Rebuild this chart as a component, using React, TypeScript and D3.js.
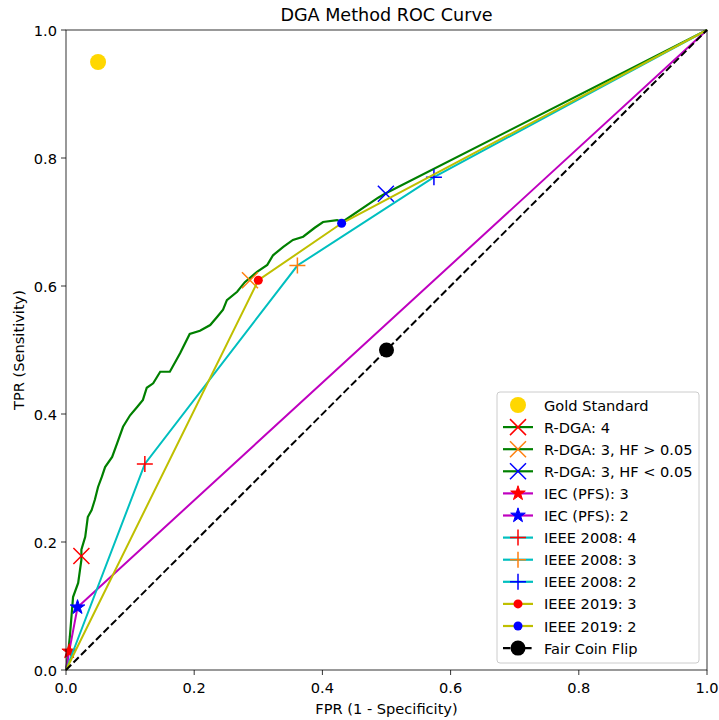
import React from 'react';
import * as d3 from 'd3';

// R-DGA ROC curve as [FPR, TPR]
const rdgaCurve: [number, number][] = [
  [0, 0], [0.001, 0.005], [0.006, 0.052], [0.011, 0.114], [0.019, 0.136],
  [0.024, 0.172], [0.024, 0.188], [0.03, 0.208], [0.034, 0.239], [0.04, 0.25],
  [0.045, 0.266], [0.05, 0.286], [0.056, 0.302], [0.061, 0.317], [0.072, 0.333],
  [0.08, 0.355], [0.089, 0.38], [0.1, 0.398], [0.111, 0.411], [0.12, 0.422],
  [0.126, 0.441], [0.136, 0.448], [0.147, 0.466], [0.162, 0.466], [0.178, 0.495],
  [0.193, 0.525], [0.209, 0.53], [0.225, 0.539], [0.236, 0.552], [0.245, 0.563],
  [0.251, 0.578], [0.267, 0.591], [0.279, 0.606], [0.298, 0.622], [0.314, 0.633],
  [0.323, 0.648], [0.339, 0.661], [0.354, 0.672], [0.37, 0.677], [0.388, 0.691],
  [0.401, 0.7], [0.423, 0.703], [0.431, 0.7], [0.487, 0.738], [0.499, 0.745], [1, 1]
];
const rdgaCutoffs: [number, number][] = [[0.024, 0.178], [0.287, 0.609], [0.499, 0.744]];
const iecPoints: [number, number][] = [[0, 0], [0.005, 0.029], [0.018, 0.098], [1, 1]];
const ieee2008Points: [number, number][] = [[0, 0], [0.123, 0.322], [0.361, 0.632], [0.574, 0.77], [1, 1]];
const ieee2019Points: [number, number][] = [[0, 0], [0.3, 0.609], [0.43, 0.698], [1, 1]];
const coinPoints: [number, number][] = [[0, 0], [1, 1]];
const goldStandard: [number, number] = [0.05, 0.95];
const coinMark: [number, number] = [0.5, 0.5];

const ticks = [0, 0.2, 0.4, 0.6, 0.8, 1.0];
const legendLabels = [
  'Gold Standard', 'R-DGA: 4', 'R-DGA: 3, HF > 0.05', 'R-DGA: 3, HF < 0.05',
  'IEC (PFS): 3', 'IEC (PFS): 2', 'IEEE 2008: 4', 'IEEE 2008: 3', 'IEEE 2008: 2',
  'IEEE 2019: 3', 'IEEE 2019: 2', 'Fair Coin Flip'
];

const GREEN = '#008000', CYAN = '#00bfbf', MAG = '#bf00bf', OLIVE = '#bfbf00';
const RED = '#ff0000', ORANGE = '#ff7f0e', BLUE = '#0000ff', GOLD = '#ffd700';
const FONT = 'DejaVu Sans, sans-serif';
const FS = 14.6;

type Shape = 'x' | 'plus' | 'star' | 'dot' | 'big' | 'gold';

function Marker({ shape, cx, cy, color }: { shape: Shape; cx: number; cy: number; color: string }) {
  const t = `translate(${cx},${cy})`;
  if (shape === 'x') return <path transform={t} d="M-8,-8L8,8M-8,8L8,-8" stroke={color} strokeWidth={1.5} fill="none" />;
  if (shape === 'plus') return <path transform={t} d="M-8,0L8,0M0,-8L0,8" stroke={color} strokeWidth={1.5} fill="none" />;
  if (shape === 'star') return <path transform={t} d={d3.symbol(d3.symbolStar, 66)() || ''} fill={color} stroke={color} strokeWidth={1} />;
  if (shape === 'dot') return <circle cx={cx} cy={cy} r={4.5} fill={color} />;
  if (shape === 'big') return <circle cx={cx} cy={cy} r={7.5} fill={color} />;
  return <circle cx={cx} cy={cy} r={8} fill={color} />;
}

export default function App() {
  const x = d3.scaleLinear().domain([0, 1]).range([66, 707]);
  const y = d3.scaleLinear().domain([0, 1]).range([670, 30]);
  const line = d3.line<[number, number]>().x(d => x(d[0])).y(d => y(d[1]));

  const cutColors = [RED, ORANGE, BLUE];
  const iecMarks = iecPoints.slice(1, 3);
  const i08Marks = ieee2008Points.slice(1, 4);
  const i19Marks = ieee2019Points.slice(1, 3);

  // legend handles: [line colour, marker shape, marker colour, dashed]
  const handles: [string | null, Shape, string, boolean][] = [
    [null, 'gold', GOLD, false],
    [GREEN, 'x', RED, false], [GREEN, 'x', ORANGE, false], [GREEN, 'x', BLUE, false],
    [MAG, 'star', RED, false], [MAG, 'star', BLUE, false],
    [CYAN, 'plus', RED, false], [CYAN, 'plus', ORANGE, false], [CYAN, 'plus', BLUE, false],
    [OLIVE, 'dot', RED, false], [OLIVE, 'dot', BLUE, false],
    ['#000', 'big', '#000', true]
  ];
  const ly0 = 405, lstep = 22.1;

  return (
    <svg width={719} height={720} style={{ position: 'absolute', left: 0, top: 0, background: '#fff' }} fontFamily={FONT}>
      <text x={386.5} y={21} textAnchor="middle" fontSize={17.6}>DGA Method ROC Curve</text>

      <Marker shape="gold" cx={x(goldStandard[0])} cy={y(goldStandard[1])} color={GOLD} />

      <path d={line(rdgaCurve) || ''} stroke={GREEN} strokeWidth={2.2} fill="none" strokeLinejoin="miter" />
      {rdgaCutoffs.map((p, i) => <Marker key={'r' + i} shape="x" cx={x(p[0])} cy={y(p[1])} color={cutColors[i]} />)}

      <path d={line(iecPoints) || ''} stroke={MAG} strokeWidth={2} fill="none" />
      {iecMarks.map((p, i) => <Marker key={'s' + i} shape="star" cx={x(p[0])} cy={y(p[1])} color={[RED, BLUE][i]} />)}

      <path d={line(ieee2008Points) || ''} stroke={CYAN} strokeWidth={2} fill="none" />
      {i08Marks.map((p, i) => <Marker key={'p' + i} shape="plus" cx={x(p[0])} cy={y(p[1])} color={cutColors[i]} />)}

      <path d={line(ieee2019Points) || ''} stroke={OLIVE} strokeWidth={2} fill="none" />
      {i19Marks.map((p, i) => <Marker key={'d' + i} shape="dot" cx={x(p[0])} cy={y(p[1])} color={[RED, BLUE][i]} />)}

      <path d={line(coinPoints) || ''} stroke="#000" strokeWidth={2} strokeDasharray="7.4,3.2" fill="none" />
      <Marker shape="big" cx={x(coinMark[0])} cy={y(coinMark[1])} color="#000" />

      {/* axes frame */}
      <rect x={66} y={30} width={641} height={640} fill="none" stroke="#000" strokeWidth={0.8} />
      {ticks.map(t => (
        <g key={'x' + t}>
          <line x1={x(t)} x2={x(t)} y1={670} y2={675} stroke="#000" strokeWidth={0.8} />
          <text x={x(t)} y={687} textAnchor="middle" dominantBaseline="central" fontSize={FS}>{t.toFixed(1)}</text>
          <line x1={61} x2={66} y1={y(t)} y2={y(t)} stroke="#000" strokeWidth={0.8} />
          <text x={57} y={y(t)} textAnchor="end" dominantBaseline="central" fontSize={FS}>{t.toFixed(1)}</text>
        </g>
      ))}
      <text x={386.5} y={708} textAnchor="middle" dominantBaseline="central" fontSize={FS}>FPR (1 - Specificity)</text>
      <text transform="translate(18,350) rotate(-90)" textAnchor="middle" dominantBaseline="central" fontSize={FS}>TPR (Sensitivity)</text>

      {/* legend */}
      <rect x={497} y={392} width={202} height={271} rx={3} fill="#fff" fillOpacity={0.8} stroke="#cccccc" strokeWidth={1} />
      {legendLabels.map((lab, i) => {
        const cy = ly0 + i * lstep;
        const h = handles[i];
        return (
          <g key={lab}>
            {h[0] && <line x1={503} x2={533} y1={cy} y2={cy} stroke={h[0]} strokeWidth={2.2} strokeDasharray={h[3] ? '7.4,3.2' : undefined} />}
            <Marker shape={h[1]} cx={518} cy={cy} color={h[2]} />
            <text x={544} y={cy} dominantBaseline="central" fontSize={FS}>{lab}</text>
          </g>
        );
      })}
    </svg>
  );
}
